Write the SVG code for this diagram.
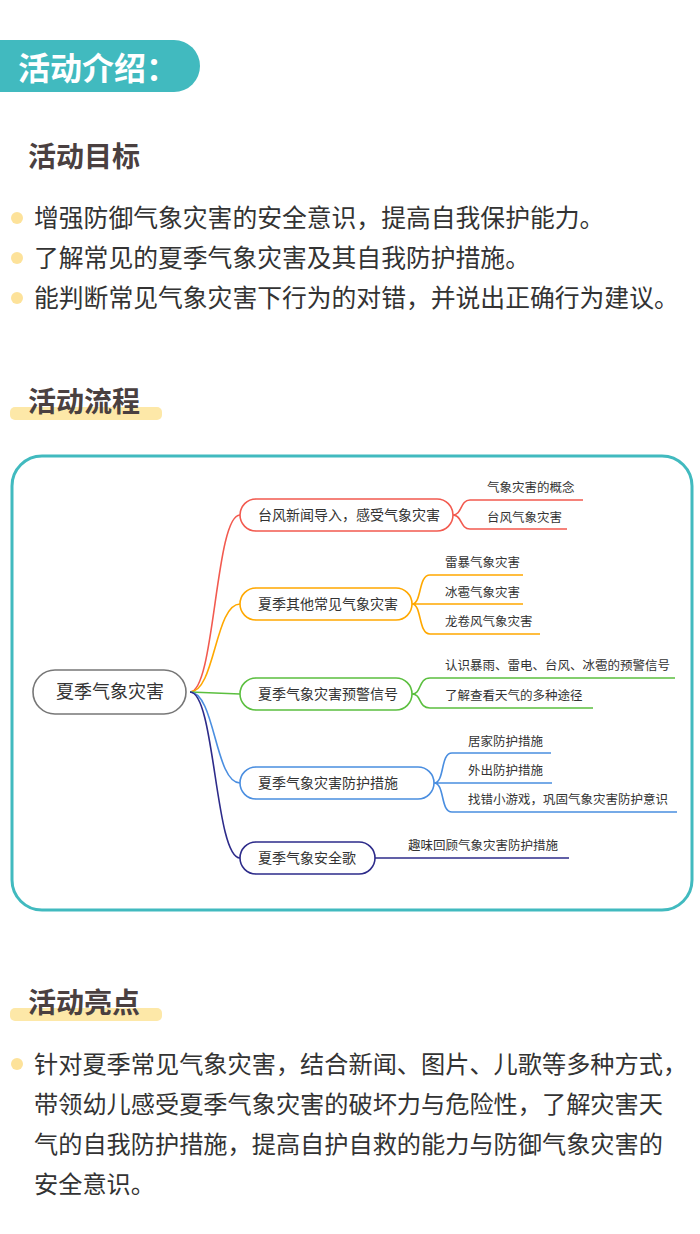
<svg xmlns="http://www.w3.org/2000/svg" width="700" height="1234" viewBox="0 0 700 1234">
<style>
text{font-family:"Noto Sans CJK SC","Noto Sans",sans-serif}
.h{font-size:28px;font-weight:bold;fill:#4a4040}
.b{font-size:24.8px;fill:#333}
.p{font-size:24.2px;fill:#333}
.n{font-size:14px;fill:#333}
.c{font-size:12.5px;fill:#333}
.dot{fill:#fde29a}
.hl{fill:#fde8a8}
.nd{fill:#fff;stroke-width:1.6}
.ln{fill:none;stroke-width:1.6}
</style>
<rect width="700" height="1234" fill="#fff"/>
<g id="header">
<path d="M0 40 H174 A26 26 0 0 1 174 92 H0 Z" fill="#41BABF"/>
<text x="18" y="80" font-size="32" font-weight="bold" fill="#fff">活动介绍：</text>
</g>
<g id="goals">
<text x="28" y="167" class="h">活动目标</text>
<circle cx="17" cy="218" r="6" class="dot"/><text x="34" y="227" class="b">增强防御气象灾害的安全意识，提高自我保护能力。</text>
<circle cx="17" cy="258" r="6" class="dot"/><text x="34" y="267" class="b">了解常见的夏季气象灾害及其自我防护措施。</text>
<circle cx="17" cy="298" r="6" class="dot"/><text x="34" y="307" class="b">能判断常见气象灾害下行为的对错，并说出正确行为建议。</text>
</g>
<g id="flow-title">
<rect x="10" y="407" width="152" height="13" rx="5" class="hl"/>
<text x="28" y="412" class="h">活动流程</text>
</g>
<rect x="12" y="456" width="680" height="454" rx="30" fill="none" stroke="#41BABF" stroke-width="3"/>
<g id="connectors">
<path d="M190 692 C215 692 215 515 240 515" class="ln" stroke="#f25a4f" stroke-width="4"/>
<path d="M190 692 C215 692 215 604 240 604" class="ln" stroke="#ffa800" stroke-width="4"/>
<path d="M190 692 L240 694" class="ln" stroke="#5bbf3f" stroke-width="3"/>
<path d="M190 692 C215 692 215 783 240 783" class="ln" stroke="#4a8ee0" stroke-width="3"/>
<path d="M190 692 C215 692 215 858 240 858" class="ln" stroke="#2d2b8a" stroke-width="4"/>
<path d="M453 515 C462 515 460 500 470 500 H583 M453 515 C462 515 460 529 470 529 H567" class="ln" stroke="#f25a4f"/>
<path d="M412 604 C422 604 418 575 430 575 H523 M412 604 H523 M412 604 C422 604 418 634 430 634 H540" class="ln" stroke="#ffa800"/>
<path d="M412 694 C422 694 418 678 430 678 H675 M412 694 C422 694 418 708 430 708 H593" class="ln" stroke="#5bbf3f"/>
<path d="M434 783 C445 783 440 753 452 753 H551 M434 783 H552 M434 783 C445 783 440 812 452 812 H677" class="ln" stroke="#4a8ee0"/>
<path d="M375 858 H569" class="ln" stroke="#2d2b8a"/>
</g>
<g id="root"><rect x="33" y="670" width="153" height="44" rx="22" class="nd" stroke="#777"/><text x="110" y="698" font-size="18" fill="#333" text-anchor="middle">夏季气象灾害</text></g>
<g id="n1"><rect x="240" y="499" width="213" height="32" rx="16" class="nd" stroke="#f25a4f"/><text x="258" y="520" class="n">台风新闻导入，感受气象灾害</text>
<text x="487" y="492" class="c">气象灾害的概念</text><text x="487" y="522" class="c">台风气象灾害</text></g>
<g id="n2"><rect x="240" y="588" width="172" height="32" rx="16" class="nd" stroke="#ffa800"/><text x="258" y="609" class="n">夏季其他常见气象灾害</text>
<text x="445" y="567" class="c">雷暴气象灾害</text><text x="445" y="597" class="c">冰雹气象灾害</text><text x="445" y="626" class="c">龙卷风气象灾害</text></g>
<g id="n3"><rect x="240" y="678" width="172" height="32" rx="16" class="nd" stroke="#5bbf3f"/><text x="258" y="699" class="n">夏季气象灾害预警信号</text>
<text x="445" y="670" class="c">认识暴雨、雷电、台风、冰雹的预警信号</text><text x="445" y="700" class="c">了解查看天气的多种途径</text></g>
<g id="n4"><rect x="240" y="767" width="194" height="32" rx="16" class="nd" stroke="#4a8ee0"/><text x="258" y="788" class="n">夏季气象灾害防护措施</text>
<text x="468" y="746" class="c">居家防护措施</text><text x="468" y="775" class="c">外出防护措施</text><text x="468" y="804" class="c">找错小游戏，巩固气象灾害防护意识</text></g>
<g id="n5"><rect x="240" y="842" width="135" height="32" rx="16" class="nd" stroke="#2d2b8a"/><text x="258" y="863" class="n">夏季气象安全歌</text>
<text x="408" y="850" class="c">趣味回顾气象灾害防护措施</text></g>
<g id="highlights">
<rect x="10" y="1008" width="152" height="13" rx="5" class="hl"/>
<text x="28" y="1013" class="h">活动亮点</text>
<circle cx="17" cy="1064" r="6" class="dot"/>
<text x="34" y="1073" class="p">针对夏季常见气象灾害，结合新闻、图片、儿歌等多种方式，</text>
<text x="34" y="1113" class="p">带领幼儿感受夏季气象灾害的破坏力与危险性，了解灾害天</text>
<text x="34" y="1153" class="p">气的自我防护措施，提高自护自救的能力与防御气象灾害的</text>
<text x="34" y="1193" class="p">安全意识。</text>
</g>
</svg>
